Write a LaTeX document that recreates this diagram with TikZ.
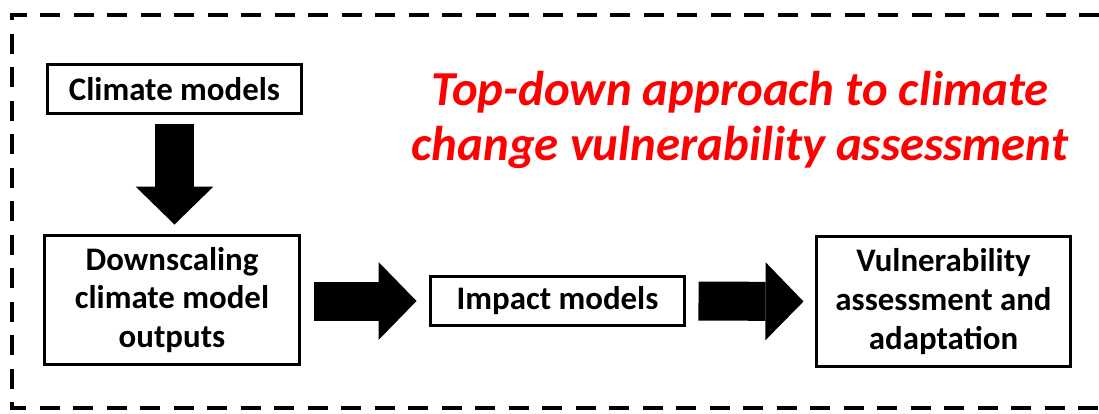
\documentclass[tikz,border=0pt]{standalone}
\usepackage{fontspec}
\setmainfont{Carlito}
\usetikzlibrary{arrows.meta}
\tikzset{
	box/.style={draw,line width=3bp,minimum width=254bp,inner sep=0pt,align=center,font=\bfseries\fontsize{33}{39}\selectfont},
	fatarrow/.style={line width=39bp,-{Triangle[length=38bp,width=78bp,line width=0pt]}}
}

\begin{document}
\begin{tikzpicture}[x=1bp,y=-1bp]
	\fill [white] (0,0) rectangle (1099,413);
	\useasboundingbox (0,0) rectangle (1099,413);
	% dashed frame, open on the right where it leaves the page
	\draw [line width=4bp,dash pattern=on 20bp off 13.5bp] (1099,15) -- (12,15) -- (12,408) -- (1099,408);

	\node [box,minimum height=49bp] (cm) at (174.5,89) {Climate models};
	\node [box,minimum height=129bp] (ds) at (172,300) {Downscaling\\climate model\\outputs};
	\node [box,minimum height=49bp] (im) at (557.5,301) {Impact models};
	\node [box,minimum height=130bp] (va) at (943.5,301.5) {Vulnerability\\assessment and\\adaptation};
	\node [text=red,align=center,font=\bfseries\itshape\fontsize{49}{55}\selectfont] (title) at (740,120) {Top-down approach to climate\\change vulnerability assessment};

	\draw [fatarrow,shorten <=8.5bp,shorten >=9.5bp] (cm.south) -- (cm.south |- ds.north);
	\draw [fatarrow,shorten <=13bp,shorten >=12.5bp] (ds.east |- im) -- (im.west);
	\draw [fatarrow,shorten <=12.5bp,shorten >=11.5bp] (im.east) -- (va.west);
\end{tikzpicture}
\end{document}
